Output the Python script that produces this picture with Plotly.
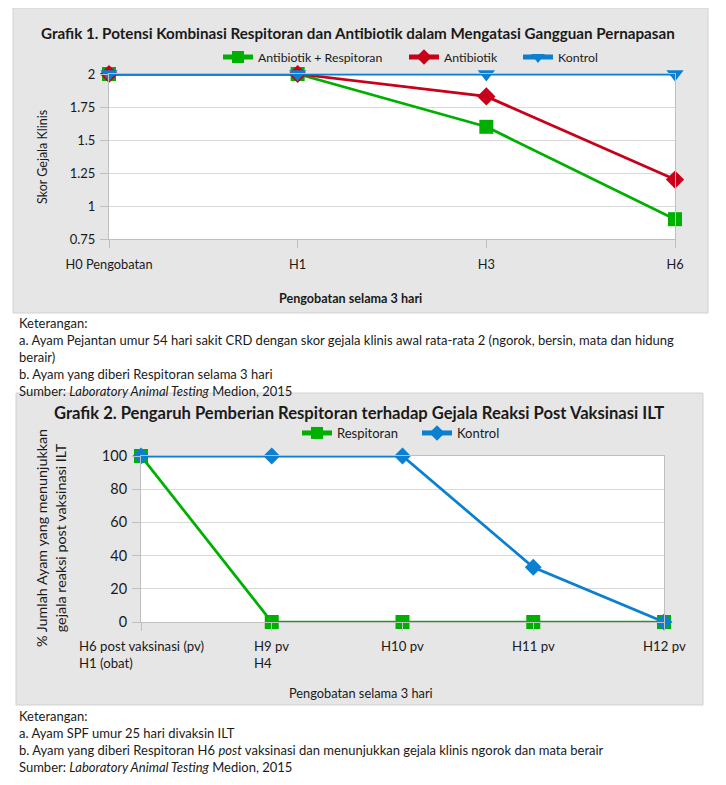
import plotly.graph_objects as go

# page has an 8px body margin; position everything in window pixels
OFF = 8
W, H = 726 - OFF, 785 - OFF
FONT = "Lato, 'Open Sans', sans-serif"

# ---- Chart 1 data ----
cats1 = ["H0 Pengobatan", "H1", "H3", "H6"]
ab_resp = [2, 2, 1.6, 0.9]
antibiotik = [2, 2, 1.83, 1.2]
kontrol1 = [2, 2, 2, 2]
yticks1 = [0.75, 1, 1.25, 1.5, 1.75, 2]

# ---- Chart 2 data ----
cats2 = ["H6", "H9", "H10", "H11", "H12"]
labels2 = ["H6 post vaksinasi (pv)<br>H1 (obat)", "H9 pv<br>H4", "H10 pv", "H11 pv", "H12 pv"]
respitoran = [100, 0, 0, 0, 0]
kontrol2 = [100, 100, 100, 33, 0]
yticks2 = [0, 20, 40, 60, 80, 100]

GREEN = "#00B000"
RED = "#C8001A"
BLUE = "#0B7FD0"
GRID = "#d9d9d9"
AXIS = "#bfbfbf"
TXT = "#1a1a1a"


def px(x):
    return (x - OFF) / W


def py(y):
    return 1 - (y - OFF) / H


fig = go.Figure()

# chart 1 traces
fig.add_trace(go.Scatter(x=cats1, y=ab_resp, name="Antibiotik + Respitoran", mode="lines+markers",
                         line=dict(color=GREEN, width=2.75), marker=dict(symbol="square", size=14, color=GREEN),
                         cliponaxis=False, xaxis="x", yaxis="y", legend="legend", showlegend=True))
fig.add_trace(go.Scatter(x=cats1, y=antibiotik, name="Antibiotik", mode="lines+markers",
                         line=dict(color=RED, width=2.75), marker=dict(symbol="diamond", size=14, color=RED),
                         cliponaxis=False, xaxis="x", yaxis="y", legend="legend2", showlegend=True))
fig.add_trace(go.Scatter(x=cats1, y=kontrol1, name="Kontrol", mode="lines+markers",
                         line=dict(color=BLUE, width=2.75), marker=dict(symbol="triangle-down", size=15, color=BLUE),
                         cliponaxis=False, xaxis="x", yaxis="y", legend="legend3", showlegend=True))

# chart 2 traces
fig.add_trace(go.Scatter(x=cats2, y=respitoran, name="Respitoran", mode="lines+markers",
                         line=dict(color=GREEN, width=2.75), marker=dict(symbol="square", size=14, color=GREEN),
                         cliponaxis=False, xaxis="x2", yaxis="y2", legend="legend4", showlegend=True))
fig.add_trace(go.Scatter(x=cats2, y=kontrol2, name="Kontrol", mode="lines+markers",
                         line=dict(color=BLUE, width=2.75), marker=dict(symbol="diamond", size=13, color=BLUE),
                         cliponaxis=False, xaxis="x2", yaxis="y2", legend="legend5", showlegend=True))

axis_common = dict(showline=True, linecolor=AXIS, linewidth=1, mirror=True, ticks="outside",
                   ticklen=8, tickcolor=AXIS, automargin=False)


def leg(text_x, y, size):
    return dict(orientation="h", x=px(text_x - 40), xanchor="left", y=py(y), yanchor="middle",
                bgcolor="rgba(0,0,0,0)", font=dict(family=FONT, size=size, color=TXT),
                itemsizing="constant", visible=True)


fig.update_layout(
    width=W, height=H, margin=dict(l=0, r=0, t=0, b=0, pad=0, autoexpand=False),
    paper_bgcolor="white", plot_bgcolor="white", showlegend=True,
    font=dict(family=FONT, color=TXT),
    xaxis=dict(domain=[px(109), px(675)], anchor="y", type="category", categoryorder="array",
               categoryarray=cats1, range=[0, 3], showgrid=False, ticklabelstandoff=6,
               tickfont=dict(family=FONT, size=12.8, color=TXT), **axis_common),
    yaxis=dict(domain=[py(239), py(74)], anchor="x", range=[0.75, 2], tickvals=yticks1,
               showgrid=True, gridcolor=GRID, zeroline=False, ticklabelstandoff=2,
               tickfont=dict(family=FONT, size=13, color=TXT), **axis_common),
    xaxis2=dict(domain=[px(141), px(664)], anchor="y2", type="category", categoryorder="array",
                categoryarray=cats2, range=[0, 4], showgrid=False, showticklabels=False,
                **axis_common),
    yaxis2=dict(domain=[py(622), py(456)], anchor="x2", range=[0, 100], tickvals=yticks2,
                showgrid=True, gridcolor=GRID, zeroline=False, ticklabelstandoff=2,
                tickfont=dict(family=FONT, size=14.5, color=TXT), **axis_common),
    legend=leg(258, 57, 12.3),
    legend2=leg(444, 57, 12.3),
    legend3=leg(558, 57, 12.3),
    legend4=leg(337, 433, 13),
    legend5=leg(457, 433, 13),
)

# grey chart boxes + white plot areas
shapes = [
    dict(type="rect", xref="paper", yref="paper", x0=px(13), x1=px(708), y0=py(313), y1=py(8),
         fillcolor="#e6e6e6", line=dict(color="#d2d2d2", width=1), layer="below"),
    dict(type="rect", xref="paper", yref="paper", x0=px(16), x1=px(703), y0=py(705), y1=py(393),
         fillcolor="#e6e6e6", line=dict(color="#d2d2d2", width=1), layer="below"),
    dict(type="rect", xref="x domain", yref="y domain", x0=0, x1=1, y0=0, y1=1,
         fillcolor="white", line=dict(width=0), layer="below"),
    dict(type="rect", xref="x2 domain", yref="y2 domain", x0=0, x1=1, y0=0, y1=1,
         fillcolor="white", line=dict(width=0), layer="below"),
]
fig.update_layout(shapes=shapes)

ann = []


def text(x, y, s, size=13, bold=False, xanchor="left", yanchor="middle", angle=0, align="left"):
    if bold:
        s = "<b>" + s + "</b>"
    ann.append(dict(x=px(x), y=py(y), xref="paper", yref="paper", text=s, showarrow=False,
                    xanchor=xanchor, yanchor=yanchor, textangle=angle, align=align,
                    font=dict(family=FONT, size=size, color=TXT)))


# chart 1 texts
text(358, 33, "Grafik 1. Potensi Kombinasi Respitoran dan Antibiotik dalam Mengatasi Gangguan Pernapasan",
     size=15.2, bold=True, xanchor="center")
text(42, 157, "Skor Gejala Klinis", size=12.5, xanchor="center", angle=-90)
text(350, 299, "Pengobatan selama 3 hari", size=12.6, bold=True, xanchor="center")

# notes 1
text(17, 323, "Keterangan:")
text(17, 340, "a. Ayam Pejantan umur 54 hari sakit CRD dengan skor gejala klinis awal rata-rata 2 (ngorok, bersin, mata dan hidung")
text(17, 357, "berair)")
text(17, 374, "b. Ayam yang diberi Respitoran selama 3 hari")
text(17, 391, "Sumber: <i>Laboratory Animal Testing</i> Medion, 2015")

# chart 2 texts
text(359, 413, "Grafik 2. Pengaruh Pemberian Respitoran terhadap Gejala Reaksi Post Vaksinasi ILT",
     size=16.6, bold=True, xanchor="center")
text(51, 538, "% Jumlah Ayam yang menunjukkan<br>gejala reaksi post vaksinasi ILT", size=14.3,
     xanchor="center", angle=-90, align="center")
text(361, 693, "Pengobatan selama 3 hari", size=12.8, xanchor="center")

# chart 2 category labels (multi-line, left aligned within block)
for c, lab in zip(cats2, labels2):
    ann.append(dict(x=c, xref="x2", y=py(636), yref="paper", text=lab, showarrow=False,
                    xanchor="center", yanchor="top", align="left",
                    font=dict(family=FONT, size=13.2, color=TXT)))

# notes 2
text(17, 716, "Keterangan:")
text(17, 733, "a. Ayam SPF umur 25 hari divaksin ILT")
text(17, 750, "b. Ayam yang diberi Respitoran H6 <i>post</i> vaksinasi dan menunjukkan gejala klinis ngorok dan mata berair")
text(17, 767, "Sumber: <i>Laboratory Animal Testing</i> Medion, 2015")

fig.update_layout(annotations=ann)

fig.write_html("out.html")
